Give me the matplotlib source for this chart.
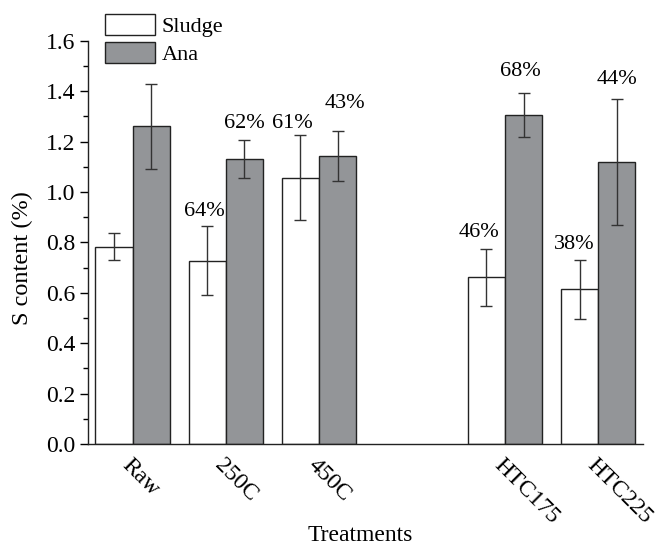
import numpy as np
import matplotlib
matplotlib.use("Agg")
import matplotlib.pyplot as plt
from matplotlib.ticker import MultipleLocator

plt.rcParams['font.family'] = ['Liberation Serif', 'DejaVu Serif']

# data
treatments = ['Raw', '250C', '450C', 'HTC175', 'HTC225']
x_pos = [0, 1, 2, 4, 5]
sludge = [0.783, 0.727, 1.057, 0.662, 0.614]
sludge_err = [0.053, 0.136, 0.168, 0.113, 0.117]
ana = [1.26, 1.130, 1.143, 1.306, 1.118]
ana_err = [0.17, 0.075, 0.10, 0.086, 0.25]
sludge_lbl = [None, '64%', '61%', '46%', '38%']
ana_lbl = [None, '62%', '43%', '68%', '44%']

fig = plt.figure(figsize=(6.62, 5.44), dpi=100)
ax = fig.add_axes([0.133, 0.184, 0.838, 0.741])

w = 0.4
x = np.array(x_pos, dtype=float)
ek = dict(ecolor='#333333', elinewidth=1.0, capsize=4, capthick=1.0)
ax.bar(x - w / 2, sludge, w, yerr=sludge_err, color='white', edgecolor='#222222',
       linewidth=1.0, error_kw=ek, label='Sludge')
ax.bar(x + w / 2, ana, w, yerr=ana_err, color='#939598', edgecolor='#222222',
       linewidth=1.0, error_kw=ek, label='Ana')

# percentage labels above error bars
s_off = [0, 0.06, 0.045, 0.065, 0.06]
s_dx = [0, -0.03, -0.08, -0.08, -0.06]
a_off = [0, 0.065, 0.11, 0.085, 0.08]
a_dx = [0, 0.0, 0.08, -0.04, 0.0]
for i in range(len(x_pos)):
    if sludge_lbl[i]:
        ax.text(x[i] - w / 2 + s_dx[i], sludge[i] + sludge_err[i] + s_off[i], sludge_lbl[i],
                ha='center', va='center', fontsize=16)
    if ana_lbl[i]:
        ax.text(x[i] + w / 2 + a_dx[i], ana[i] + ana_err[i] + a_off[i], ana_lbl[i],
                ha='center', va='center', fontsize=16)

ax.set_xlim(-0.48, 5.48)
ax.set_ylim(0, 1.6)
ax.yaxis.set_major_locator(MultipleLocator(0.2))
ax.yaxis.set_minor_locator(MultipleLocator(0.1))
ax.yaxis.set_major_formatter(matplotlib.ticker.FormatStrFormatter('%.1f'))
ax.set_xticks(x)
ax.set_xticklabels(treatments, rotation=-45, ha='left', va='top', rotation_mode='anchor')
ax.tick_params(axis='x', length=0, pad=8, labelsize=17)
ax.tick_params(axis='y', which='major', direction='out', length=6, width=1, labelsize=17, pad=3)
ax.tick_params(axis='y', which='minor', direction='out', length=3.5, width=1)
for s in ['top', 'right']:
    ax.spines[s].set_visible(False)
for s in ['left', 'bottom']:
    ax.spines[s].set_color('#222222')
    ax.spines[s].set_linewidth(1.0)

ax.set_ylabel('S content (%)', fontsize=17.5)
ax.yaxis.set_label_coords(-0.1, 0.46)
ax.set_xlabel('Treatments', fontsize=17)
ax.xaxis.set_label_coords(0.49, -0.2)

ax.legend(loc='upper left', bbox_to_anchor=(0.159, 0.974), bbox_transform=fig.transFigure,
          frameon=False, fontsize=16, handlelength=2.25, handleheight=1.05,
          handletextpad=0.3, labelspacing=0.22, borderaxespad=0.0, borderpad=0.0)

fig.savefig('out.png', dpi=100)
